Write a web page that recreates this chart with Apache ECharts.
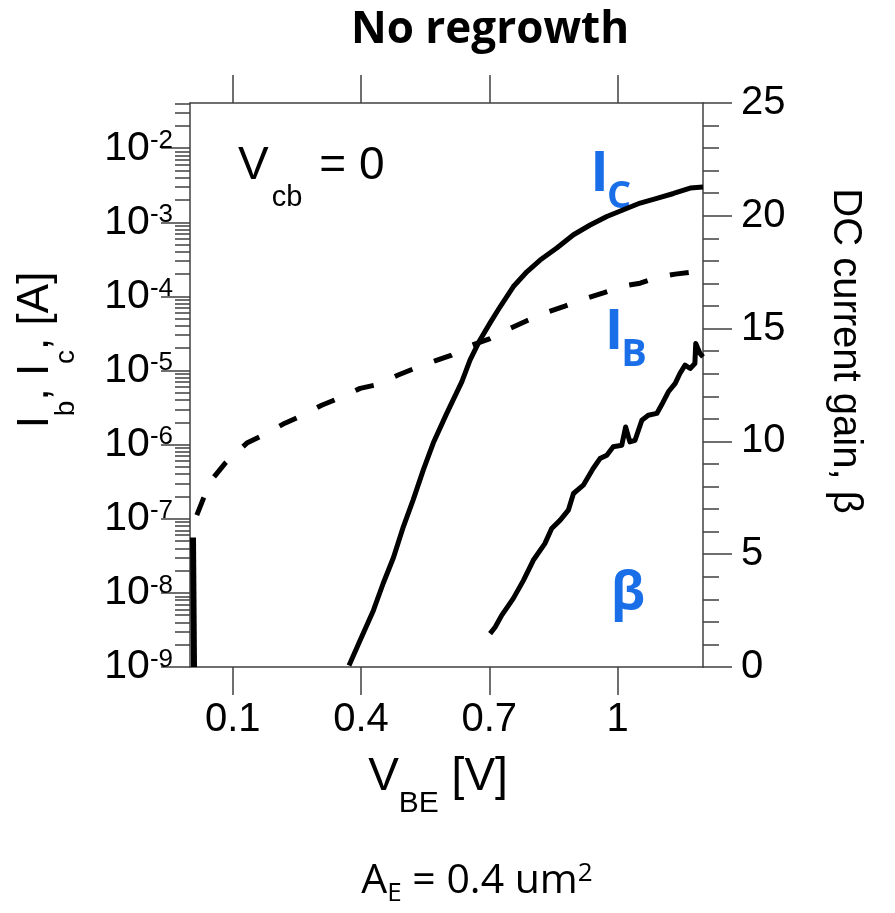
<!DOCTYPE html>
<html>
<head>
<meta charset="utf-8">
<script src="https://cdn.jsdelivr.net/npm/echarts@6/dist/echarts.min.js"></script>
<style>
html, body { margin: 0; padding: 0; background: #fff; }
#chart1 { width: 895px; height: 913px; }
</style>
</head>
<body>
<div id="chart1"></div>
<script>
function $(_) {return document.getElementById(_);}

// collector current Ic [A] vs VBE [V]
const icV = [0.372, 0.398, 0.429, 0.452, 0.476, 0.499, 0.522, 0.546, 0.569, 0.600, 0.636, 0.655, 0.678, 0.702,
  0.725, 0.756, 0.788, 0.819, 0.858, 0.897, 0.936, 0.975, 1.014, 1.053, 1.092, 1.131, 1.170, 1.200];
const icA = [1.05e-9, 2.3e-9, 5.8e-9, 1.35e-8, 3.0e-8, 7.8e-8, 1.8e-7, 4.6e-7, 1.05e-6, 2.6e-6, 7.1e-6, 1.38e-5, 2.57e-5, 4.4e-5,
  7.2e-5, 1.35e-4, 2.15e-4, 3.1e-4, 4.5e-4, 6.8e-4, 9.2e-4, 1.2e-3, 1.48e-3, 1.82e-3, 2.1e-3, 2.45e-3, 2.9e-3, 3.0e-3];

// leakage spike near VBE = 0
const leakV = [0.007, 0.0094];
const leakA = [5.6e-8, 1e-9];

// base current Ib [A]
const ibV = [0.016, 0.031, 0.055, 0.082, 0.133, 0.172, 0.222, 0.257, 0.308, 0.347, 0.398, 0.437, 0.487, 0.522, 0.573,
  0.612, 0.659, 0.702, 0.749, 0.788, 0.838, 0.877, 0.924, 0.967, 1.014, 1.053, 1.095, 1.135, 1.177, 1.200];
const ibA = [1.12e-7, 1.86e-7, 3.6e-7, 5.6e-7, 1.05e-6, 1.35e-6, 1.95e-6, 2.4e-6, 3.4e-6, 4.2e-6, 5.75e-6, 6.45e-6, 8.7e-6, 1.05e-5, 1.35e-5,
  1.62e-5, 2.2e-5, 2.7e-5, 3.7e-5, 4.7e-5, 6.2e-5, 7.4e-5, 9.3e-5, 1.12e-4, 1.38e-4, 1.51e-4, 1.82e-4, 2.0e-4, 2.14e-4, 2.24e-4];

// DC current gain beta
const betaV = [0.702, 0.714, 0.729, 0.756, 0.780, 0.803, 0.830, 0.846, 0.866, 0.885, 0.897, 0.920, 0.943, 0.959, 0.975, 0.990,
  1.010, 1.019, 1.029, 1.041, 1.057, 1.072, 1.092, 1.103, 1.119, 1.135, 1.146, 1.158, 1.170, 1.181, 1.183, 1.193, 1.200];
const betaG = [1.48, 1.77, 2.29, 3.03, 3.84, 4.73, 5.47, 6.14, 6.51, 6.95, 7.69, 8.06, 8.80, 9.24, 9.39, 9.76,
  9.83, 10.64, 9.98, 10.05, 10.94, 11.16, 11.24, 11.61, 12.20, 12.57, 13.01, 13.38, 13.23, 13.45, 14.34, 13.90, 13.75];

// axes
const xTicks = [0.1, 0.4, 0.7, 1];
const decades = [-9, -8, -7, -6, -5, -4, -3, -2];
const logMin = -9, logMax = -1.39;

const minorLog = [];
decades.forEach(n => {
  for (let k = 2; k <= 9; k++) {
    const v = n + Math.log10(k);
    if (v <= logMax) minorLog.push(v);
  }
});

const AXC = '#404040';
const ARIAL = '"Liberation Sans", Arial, sans-serif';
const CAL = '"Open Sans", sans-serif';
const BLUE = '#1a6fe8';

const toLog = (xs, ys) => xs.map((x, i) => [x, Math.log10(ys[i])]);
const toPts = (xs, ys) => xs.map((x, i) => [x, ys[i]]);

const echart1 = echarts.init($('chart1'), null, {renderer: 'canvas'});

const axLine = { show: true, onZero: false, lineStyle: { color: AXC, width: 1.5 } };
const tickStyle = { color: AXC, width: 1.5 };

option = {
  animation: false,
  backgroundColor: '#fff',
  grid: { left: 190, right: 192, top: 103, bottom: 246, containLabel: false },
  xAxis: [
    {
      type: 'value', position: 'bottom', min: 0, max: 1.2,
      axisLine: axLine,
      axisTick: { show: true, customValues: xTicks, length: 28, lineStyle: tickStyle },
      axisLabel: {
        customValues: xTicks, margin: 33, fontSize: 40, fontFamily: ARIAL, color: '#000',
        formatter: v => String(parseFloat(v.toFixed(2)))
      },
      splitLine: { show: false }
    },
    {
      type: 'value', position: 'top', min: 0, max: 1.2,
      axisLine: axLine,
      axisTick: { show: true, customValues: xTicks, length: 28, lineStyle: tickStyle },
      axisLabel: { show: false },
      splitLine: { show: false }
    }
  ],
  yAxis: [
    {
      type: 'value', position: 'left', min: logMin, max: logMax,
      axisLine: axLine,
      axisTick: { show: true, customValues: decades, length: 29, lineStyle: tickStyle },
      axisLabel: {
        customValues: decades, margin: 17, color: '#000',
        formatter: v => '{b|10}{e|' + Math.round(v) + '}',
        rich: {
          b: { fontSize: 41, fontFamily: ARIAL, lineHeight: 41, verticalAlign: 'bottom', color: '#000' },
          e: { fontSize: 26, fontFamily: ARIAL, lineHeight: 26, padding: [0, 0, 17, 0], verticalAlign: 'top', color: '#000' }
        }
      },
      splitLine: { show: false }
    },
    {
      type: 'value', position: 'left', min: logMin, max: logMax,
      axisLine: { show: false, onZero: false },
      axisTick: { show: true, customValues: minorLog, length: 15, lineStyle: tickStyle },
      axisLabel: { show: false },
      splitLine: { show: false }
    },
    {
      type: 'value', position: 'right', min: 0, max: 25, interval: 5,
      axisLine: axLine,
      axisTick: { show: true, length: 29, lineStyle: tickStyle },
      minorTick: { show: true, splitNumber: 5, length: 16, lineStyle: tickStyle },
      axisLabel: { margin: 38, fontSize: 40, fontFamily: ARIAL, color: '#000' },
      splitLine: { show: false }
    }
  ],
  graphic: [
    { type: 'text', x: 490, y: 30, style: { text: 'No regrowth', fontSize: 44, fontWeight: 'bold', fontFamily: CAL, fill: '#000', align: 'center', verticalAlign: 'middle' } },
    { type: 'text', x: 238, y: 143, style: {
        text: '{m|V}{s|cb}{q|= 0}', align: 'left', verticalAlign: 'top',
        rich: {
          m: { fontSize: 46, fontFamily: ARIAL, lineHeight: 46, verticalAlign: 'top', fill: '#000' },
          q: { fontSize: 46, fontFamily: ARIAL, lineHeight: 46, verticalAlign: 'top', padding: [0, 0, 0, 17], fill: '#000' },
          s: { fontSize: 29, fontFamily: ARIAL, lineHeight: 29, padding: [40, 0, 0, 3], verticalAlign: 'top', fill: '#000' }
        } } },
    { type: 'text', x: 599.5, y: 175, style: { text: 'I', fontSize: 56, fontWeight: 'bold', fontFamily: CAL, fill: BLUE, align: 'center', verticalAlign: 'middle' } },
    { type: 'text', x: 619, y: 197, style: { text: 'C', fontSize: 38, fontWeight: 'bold', fontFamily: CAL, fill: BLUE, align: 'center', verticalAlign: 'middle' } },
    { type: 'text', x: 614, y: 333, style: { text: 'I', fontSize: 56, fontWeight: 'bold', fontFamily: CAL, fill: BLUE, align: 'center', verticalAlign: 'middle' } },
    { type: 'text', x: 634, y: 355, style: { text: 'B', fontSize: 38, fontWeight: 'bold', fontFamily: CAL, fill: BLUE, align: 'center', verticalAlign: 'middle' } },
    { type: 'text', x: 628, y: 594, style: { text: 'β', fontSize: 52, fontWeight: 'bold', fontFamily: CAL, fill: BLUE, align: 'center', verticalAlign: 'middle' } },
    // y title, left
    { type: 'text', x: 14, y: 350, rotation: Math.PI / 2, style: {
        text: '{m|I}{s|b}{m|, I}{s|c}{m|, [A]}', align: 'center', verticalAlign: 'top',
        rich: {
          m: { fontSize: 44, fontFamily: ARIAL, lineHeight: 44, verticalAlign: 'top', fill: '#000' },
          s: { fontSize: 28, fontFamily: ARIAL, lineHeight: 28, padding: [38, 0, 0, 0], verticalAlign: 'top', fill: '#000' }
        } } },
    // y title, right
    { type: 'text', x: 845, y: 351, rotation: -Math.PI / 2, style: { text: 'DC current gain, β', fontSize: 40, fontFamily: ARIAL, fill: '#000', align: 'center', verticalAlign: 'middle' } },
    // x title
    { type: 'text', x: 438, y: 754, style: {
        text: '{m|V}{s|BE}{m| [V]}', align: 'center', verticalAlign: 'top',
        rich: {
          m: { fontSize: 46, fontFamily: ARIAL, lineHeight: 46, verticalAlign: 'top', fill: '#000' },
          s: { fontSize: 30, fontFamily: ARIAL, lineHeight: 30, padding: [35, 0, 0, 0], verticalAlign: 'top', fill: '#000' }
        } } },
    // emitter area
    { type: 'text', x: 477, y: 861, style: {
        text: '{m|A}{s|E}{m| = 0.4 um}{p|2}', align: 'center', verticalAlign: 'top',
        rich: {
          m: { fontSize: 41, fontFamily: CAL, lineHeight: 41, verticalAlign: 'top', fill: '#000' },
          s: { fontSize: 26, fontFamily: CAL, lineHeight: 26, padding: [20, 0, 0, 0], verticalAlign: 'top', fill: '#000' },
          p: { fontSize: 26, fontFamily: CAL, lineHeight: 26, verticalAlign: 'top', fill: '#000' }
        } } }
  ],
  series: [
    {
      name: 'Ic', type: 'line', xAxisIndex: 0, yAxisIndex: 0, showSymbol: false, silent: true,
      lineStyle: { color: '#000', width: 5, join: 'round' },
      data: toLog(icV, icA)
    },
    {
      name: 'Ic leak', type: 'line', xAxisIndex: 0, yAxisIndex: 0, showSymbol: false, silent: true,
      lineStyle: { color: '#000', width: 6 },
      data: toLog(leakV, leakA)
    },
    {
      name: 'Ib', type: 'line', xAxisIndex: 0, yAxisIndex: 0, showSymbol: false, silent: true,
      lineStyle: { color: '#000', width: 5, type: [19, 23] },
      data: toLog(ibV, ibA)
    },
    {
      name: 'beta', type: 'line', xAxisIndex: 0, yAxisIndex: 2, showSymbol: false, silent: true,
      lineStyle: { color: '#000', width: 5, join: 'round' },
      data: toPts(betaV, betaG)
    }
  ]
};

echart1.setOption(option);
</script>
</body>
</html>
